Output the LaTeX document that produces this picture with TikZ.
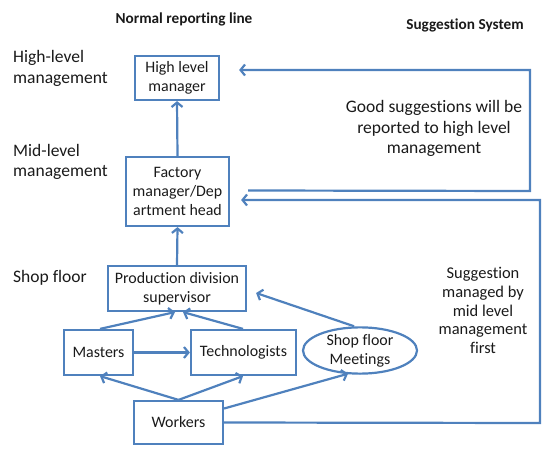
\documentclass[tikz,border=0pt]{standalone}
\usepackage{fontspec}
\setmainfont{Carlito}[RawFeature=-liga]
\usetikzlibrary{arrows.meta,shapes.geometric}
\definecolor{lblue}{HTML}{4F81BD}
\definecolor{txt}{HTML}{1A1A1A}
\tikzset{
  box/.style={draw=lblue, line width=2.2bp, rectangle, align=center, inner sep=0pt, text=txt, font=\fontsize{16}{19}\selectfont},
  ell/.style={draw=lblue, line width=2.2bp, ellipse, align=center, inner sep=0pt, text=txt, font=\fontsize{16}{19}\selectfont},
  lbl/.style={align=center, inner sep=0pt, text=txt, font=\fontsize{17.6}{20.5}\selectfont},
  head/.style={inner sep=0pt, text=txt, font=\fontsize{15.3}{17}\selectfont\bfseries},
  conn/.style={draw=lblue, line width=2.2bp, -{Straight Barb[length=4.5bp,width=11bp,line width=2.2bp]}},
  plain/.style={draw=lblue, line width=2.2bp}
}
\begin{document}
\begin{tikzpicture}[x=1bp,y=-1bp]
\useasboundingbox (0,0) rectangle (550,454);
% headings
\node[head] (h1) at (184,19) {Normal reporting line};
\node[head] (h2) at (465,25) {Suggestion System};
% level labels
\node[lbl, anchor=west, align=left] (l1) at (13,68.5) {High-level\\management};
\node[lbl, anchor=west, align=left] (l2) at (13,162) {Mid-level\\management};
\node[lbl, anchor=west, align=left] (l3) at (13,278) {Shop floor};
% boxes
\node[box, minimum width=84bp, minimum height=44bp] (hlm) at (177,78) {High level\\manager};
\node[box, minimum width=103bp, minimum height=69bp] (fm) at (177.5,191.5) {Factory\\manager/Dep\\artment head};
\node[box, minimum width=138bp, minimum height=45bp] (pds) at (177,288.5) {Production division\\supervisor};
\node[box, minimum width=69bp, minimum height=45bp] (mas) at (98.5,352.5) {Masters};
\node[box, minimum width=105bp, minimum height=45bp] (tec) at (243.5,352.5) {Technologists};
\node[box, minimum width=89bp, minimum height=43bp] (wor) at (178.5,422.5) {Workers};
\node[ell, minimum width=114bp, minimum height=45bp] (sfm) at (360,350.5) {Shop floor\\Meetings};
% side texts
\node[lbl] (t1) at (434,128.5) {Good suggestions will be\\reported to high level\\management};
\node[lbl, font=\fontsize{16.5}{18.8}\selectfont] (t2) at (483,310.5) {Suggestion\\managed by\\mid level\\management\\first};
% normal reporting connectors
\draw[conn] (fm.north) -- (hlm.south);
\draw[conn] (pds.north) -- (fm.south);
\draw[conn] ([xshift=1.5bp]mas.north) -- ([xshift=-2bp]pds.south);
\draw[conn] ([xshift=-0.5bp]tec.north) -- ([xshift=6bp]pds.south);
\draw[conn] (mas.east) -- (tec.west);
\draw[conn] (wor.north) -- ([xshift=1.5bp]mas.south);
\draw[conn] (wor.north) -- ([xshift=-0.5bp]tec.south);
\draw[conn] ([yshift=14bp]wor.east) -- ([xshift=-12bp,yshift=1bp]sfm.south);
\draw[conn] ([xshift=-6bp]sfm.north) -- ([xshift=9bp,yshift=-4.5bp]pds.east);
% suggestion system loops
\coordinate (s1a) at ([xshift=18bp,yshift=1bp]fm.east);
\coordinate (s1b) at (530,191);
\coordinate (s1c) at (530,70);
\coordinate (s1d) at ([xshift=19bp,yshift=8bp]hlm.east);
\draw[conn] (s1a) -- (s1b) -- (s1c) -- (s1d);
\coordinate (s2b) at (540,423);
\coordinate (s2c) at (540,200);
\coordinate (s2d) at ([xshift=11bp,yshift=-8.5bp]fm.east);
\draw[conn] (wor.east) -- (s2b) -- (s2c) -- (s2d);
\end{tikzpicture}
\end{document}
